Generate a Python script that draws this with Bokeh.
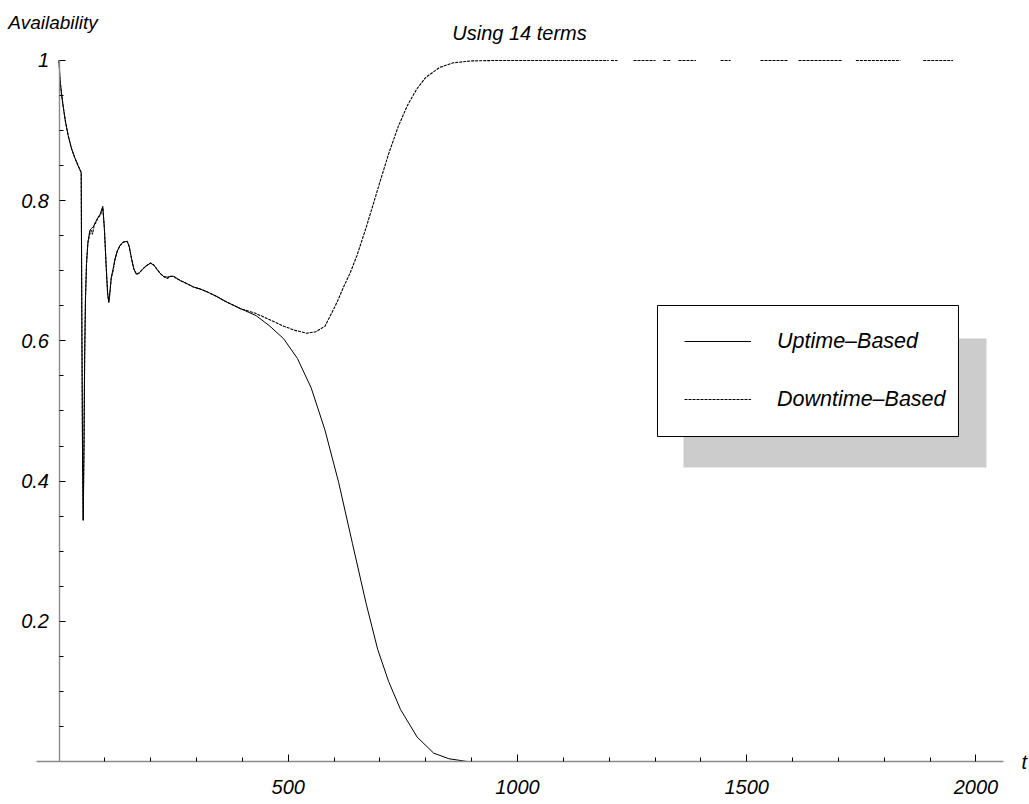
import math

from bokeh.embed import file_html
from bokeh.models import (CustomJSTickFormatter, FixedTicker, Grid, Label, Legend,
                          LegendItem, LinearAxis, Range1d)
from bokeh.plotting import figure
from bokeh.resources import INLINE

# ---------------------------------------------------------------- data
# Availability computed from the uptime-based series expansion (14 terms)
t_up = [0, 2, 5, 9, 14, 20, 27, 34, 41, 48.4, 50, 51.5, 52.8, 54.5, 56, 57.8, 60, 63, 67,
        70, 75, 80, 85, 90, 95.5, 99, 103, 106, 108.6, 111, 114, 118, 122, 127, 133, 140,
        148.7, 153, 158, 163, 169, 175, 182, 190, 199.6, 207, 214, 221, 228, 236, 243, 250,
        257, 265, 278, 293, 308, 323, 345, 367, 396, 430, 460, 490, 520, 550, 580, 610, 640,
        670, 695, 719, 745, 781, 817, 850, 890, 1000, 1090]
a_up = [1.0, 0.975, 0.955, 0.935, 0.913, 0.893, 0.875, 0.862, 0.851, 0.840, 0.60, 0.42,
        0.344, 0.45, 0.58, 0.662, 0.71, 0.74, 0.757, 0.760, 0.763, 0.770, 0.776, 0.781,
        0.792, 0.76, 0.705, 0.668, 0.655, 0.670, 0.690, 0.703, 0.716, 0.728, 0.736, 0.741,
        0.742, 0.735, 0.718, 0.703, 0.695, 0.697, 0.702, 0.707, 0.711, 0.708, 0.702, 0.696,
        0.692, 0.691, 0.692, 0.692, 0.689, 0.686, 0.682, 0.677, 0.674, 0.670, 0.663, 0.655,
        0.646, 0.636, 0.621, 0.603, 0.575, 0.533, 0.473, 0.398, 0.311, 0.225, 0.160, 0.114,
        0.074, 0.035, 0.012, 0.004, 0.0, 0.0, 0.0]
# pieces of the uptime tail that are drawn at zero (start, end)
up_tail = [(1137, 1172), (1203, 1262), (1305, 1340), (1373, 1393), (1469, 1530)]

# Availability computed from the downtime-based series expansion (14 terms)
t_down = [0, 2, 5, 9, 14, 20, 27, 34, 41, 48.4, 50, 51.5, 52.8, 54.5, 56, 57.8, 60, 63, 67,
          70, 73, 77, 80, 85, 90, 95.5, 99, 103, 106, 108.6, 111, 114, 118, 122, 127, 133,
          140, 148.7, 153, 158, 163, 169, 175, 182, 190, 199.6, 207, 214, 221, 228, 236, 243,
          250, 257, 265, 278, 293, 308, 323, 345, 367, 396, 430, 460, 490, 515, 540, 560, 580,
          595, 607, 620, 635, 650, 670, 690, 701, 720, 740, 760, 780, 800, 830, 860, 900, 950,
          1000, 1199]
a_down = [1.0, 0.975, 0.955, 0.935, 0.913, 0.893, 0.875, 0.862, 0.851, 0.840, 0.60, 0.42,
          0.344, 0.45, 0.58, 0.662, 0.71, 0.74, 0.752, 0.758, 0.752, 0.766, 0.768, 0.776,
          0.779, 0.790, 0.76, 0.705, 0.668, 0.655, 0.668, 0.690, 0.700, 0.716, 0.728, 0.736,
          0.741, 0.742, 0.735, 0.718, 0.703, 0.695, 0.697, 0.702, 0.707, 0.711, 0.708, 0.702,
          0.696, 0.692, 0.689, 0.692, 0.692, 0.689, 0.686, 0.682, 0.677, 0.674, 0.670, 0.663,
          0.655, 0.646, 0.639, 0.630, 0.621, 0.615, 0.611, 0.613, 0.621, 0.640, 0.656, 0.676,
          0.697, 0.722, 0.762, 0.805, 0.829, 0.869, 0.906, 0.936, 0.959, 0.976, 0.990, 0.9967,
          0.9994, 1.0, 1.0, 1.0]
# pieces of the downtime tail that are drawn at one (start, end)
down_tail = [(1204, 1218), (1253, 1301), (1318, 1334), (1351, 1389), (1443, 1465),
             (1530, 1591), (1613, 1709), (1738, 1835), (1885, 1950)]

x_major = [500, 1000, 1500, 2000]
x_minor = [100, 200, 300, 400, 600, 700, 800, 900, 1100, 1200, 1300, 1400, 1600, 1700,
           1800, 1900]
y_major = [0.2, 0.4, 0.6, 0.8, 1]
y_minor = [0.05, 0.1, 0.15, 0.25, 0.3, 0.35, 0.45, 0.5, 0.55, 0.65, 0.7, 0.75, 0.85, 0.9,
           0.95]

series_labels = ["Uptime–Based", "Downtime–Based"]
title_text = "Using 14 terms"
y_title = "Availability"
x_title = "t"

FONT = "Liberation Sans"


def with_pieces(ts, vals, pieces, level):
    """Append separated constant pieces to a curve, split by NaN."""
    xs, ys = list(ts), list(vals)
    for a, b in pieces:
        xs += [math.nan, a, b]
        ys += [math.nan, level, level]
    return xs, ys


# ---------------------------------------------------------------- figure
p = figure(width=1029, height=804,
           x_range=Range1d(-127.6, 2116.7), y_range=Range1d(-0.06134, 1.08559),
           output_backend="svg", toolbar_location=None,
           x_axis_location=None, y_axis_location=None,
           min_border=0, outline_line_color=None, background_fill_color="white",
           border_fill_color="white")
for g in p.select(type=Grid):
    g.visible = False

# legend frame with its drop shadow
p.quad(left=[1362.1], right=[2022.9], bottom=[0.4194], top=[0.6034],
       fill_color="#cccccc", line_color=None)
p.quad(left=[1305.3], right=[1961.8], bottom=[0.4636], top=[0.6505],
       fill_color="white", line_color="black", line_width=1)

xu, yu = with_pieces(t_up, a_up, up_tail, 0.0)
xd, yd = with_pieces(t_down, a_down, down_tail, 1.0)

r_down = p.line(xd, yd, line_color="black", line_width=1.1, line_dash="3 1")
r_up = p.line(xu, yu, line_color="black", line_width=1)


def style_axis(ax):
    ax.axis_line_color = "#8a8a8a"
    ax.axis_line_width = 1.4
    ax.major_tick_line_color = "black"
    ax.minor_tick_line_color = "black"
    ax.major_tick_out = 0
    ax.minor_tick_out = 0
    ax.major_label_text_font = FONT
    ax.major_label_text_font_style = "italic"
    ax.major_label_text_font_size = "20px"
    ax.major_label_text_color = "black"


xaxis = LinearAxis(fixed_location=0, bounds=(-49, 2060),
                   ticker=FixedTicker(ticks=x_major, minor_ticks=x_minor))
style_axis(xaxis)
xaxis.major_tick_in = 7
xaxis.minor_tick_in = 4
xaxis.major_label_standoff = 18
p.add_layout(xaxis, "below")

yaxis = LinearAxis(fixed_location=0, bounds=(0, 1),
                   ticker=FixedTicker(ticks=y_major, minor_ticks=y_minor),
                   formatter=CustomJSTickFormatter(code="return String(tick)"))
style_axis(yaxis)
yaxis.major_tick_in = 6
yaxis.minor_tick_in = 4
yaxis.major_label_standoff = 10
p.add_layout(yaxis, "left")

legend = Legend(items=[LegendItem(label=series_labels[0], renderers=[r_up]),
                       LegendItem(label=series_labels[1], renderers=[r_down])],
                location=(674, 380), orientation="vertical",
                glyph_width=67, glyph_height=30, label_height=30, label_standoff=26,
                spacing=28, padding=10, margin=0,
                border_line_alpha=0, background_fill_alpha=0,
                label_text_font=FONT, label_text_font_style="italic",
                label_text_font_size="21.5px", label_text_color="black")
p.add_layout(legend, "center")

p.add_layout(Label(x=-110.5, y=1.0542, text=y_title, text_align="left",
                   text_baseline="middle", text_font=FONT, text_font_style="italic",
                   text_font_size="19px", text_color="black"))
p.add_layout(Label(x=1004.4, y=1.0399, text=title_text, text_align="center",
                   text_baseline="middle", text_font=FONT, text_font_style="italic",
                   text_font_size="20px", text_color="black"))
p.add_layout(Label(x=2099, y=0.0, text=x_title, text_align="left",
                   text_baseline="middle", text_font=FONT, text_font_style="italic",
                   text_font_size="20px", text_color="black"))

open("out.html", "w").write(file_html(p, INLINE))
